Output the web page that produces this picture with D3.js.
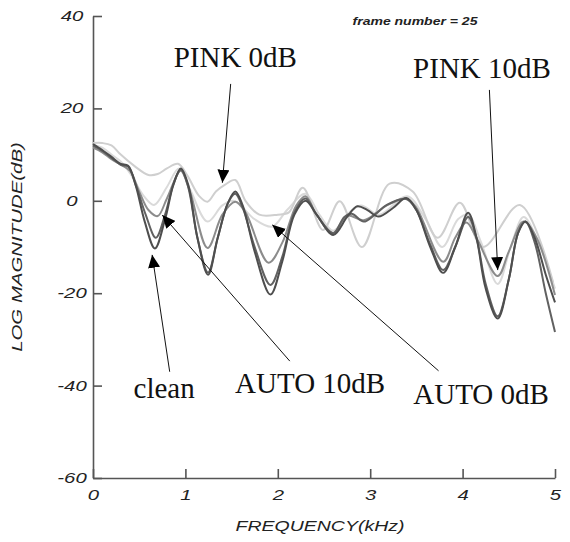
<!DOCTYPE html>
<html>
<head>
<meta charset="utf-8">
<script src="https://cdn.jsdelivr.net/npm/d3@7"></script>
<style>
  body { margin: 0; background: #fff; }
  svg { display: block; }
  .axis path, .axis line { stroke: #555; stroke-width: 1.6; }
  .axis text { font-family: "Liberation Sans", Arial, sans-serif; font-style: italic; font-size: 14px; fill: #222; }
  .note { font-family: "Liberation Serif", "Times New Roman", serif; font-size: 29px; fill: #111; }
</style>
</head>
<body>
<svg id="chart" width="570" height="542"></svg>
<script>
// spectra, [kHz, dB]
let clean = [[0,12.3],[0.1,11],[0.2,9.5],[0.3,8],[0.38,7.6],[0.46,3.5],[0.56,-4.5],[0.67,-10.3],[0.78,-4],[0.87,3.5],[0.95,7],[1.03,3.5],[1.13,-8],[1.245,-16],[1.35,-8],[1.46,-0.5],[1.54,2],[1.62,-1],[1.75,-11],[1.92,-20.3],[2.05,-13],[2.18,-3],[2.3,0],[2.42,-3],[2.6,-7.4],[2.75,-3.5],[2.86,-1.2],[2.97,-2],[3.09,-3.4],[3.25,-1.5],[3.39,0.6],[3.5,-2],[3.65,-10],[3.79,-15.6],[3.92,-10],[4.06,-2.6],[4.15,-8],[4.25,-19],[4.38,-25.5],[4.5,-17],[4.6,-7],[4.68,-4.5],[4.78,-8],[4.9,-16],[5,-22]]
let auto10 = [[0,12],[0.1,10.8],[0.2,9.3],[0.3,7.8],[0.38,7.4],[0.47,3],[0.57,-3],[0.68,-8],[0.78,-3],[0.87,3.5],[0.95,6.7],[1.03,3],[1.13,-8],[1.245,-15.5],[1.35,-8],[1.46,-0.5],[1.54,1.5],[1.62,-1.5],[1.75,-10],[1.92,-18.2],[2.05,-12],[2.18,-2.5],[2.3,0.5],[2.42,-3],[2.6,-7],[2.72,-3.5],[2.8,-2.8],[2.93,-4.5],[3.05,-3],[3.18,-0.9],[3.39,0.4],[3.5,-2],[3.65,-9.5],[3.79,-15],[3.92,-10],[4.06,-3.5],[4.15,-8],[4.25,-18],[4.38,-25],[4.5,-17],[4.6,-7],[4.68,-4.5],[4.78,-9],[4.9,-20],[5,-28.4]]
let auto0 = [[0,11.5],[0.1,10.5],[0.2,9],[0.3,7.8],[0.4,6.5],[0.5,2],[0.6,-2],[0.7,-3.3],[0.8,0.5],[0.95,6.5],[1.05,2],[1.24,-10.2],[1.4,-3],[1.54,-0.2],[1.65,-2.5],[1.9,-13.4],[2.05,-9],[2.2,-1],[2.3,1],[2.42,-3],[2.6,-7],[2.75,-3.2],[2.93,-4.2],[3.18,-1],[3.39,0.5],[3.5,-1.5],[3.79,-13.2],[3.92,-8],[4.04,-4.7],[4.15,-8],[4.38,-16.3],[4.5,-11],[4.66,-4.5],[4.8,-8],[5,-20.4]]
let pink0 = [[0,12.5],[0.1,12.5],[0.2,12],[0.3,10],[0.45,7.5],[0.6,5.6],[0.7,5.8],[0.8,7],[0.92,8],[1.02,5.5],[1.15,1],[1.24,-0.2],[1.33,2],[1.43,3.5],[1.54,4.5],[1.65,0],[1.8,-3],[2.0,-3],[2.12,-2.5],[2.27,2.8],[2.49,-6.3],[2.67,-0.1],[2.91,-10],[3.21,3.7],[3.46,2],[3.73,-8],[3.97,-0.4],[4.22,-10],[4.62,-0.9],[4.98,-17.7]]
let pink10 = [[0,12],[0.1,11.5],[0.2,10],[0.3,8.5],[0.4,6],[0.55,1],[0.66,-0.9],[0.8,3],[0.93,7],[1.05,2.5],[1.24,-4.5],[1.4,-1],[1.52,0],[1.62,-1.5],[1.75,-4],[1.94,-5.6],[2.1,-2],[2.3,1.5],[2.45,-3],[2.6,-6.5],[2.75,-3],[2.9,-1],[3.1,-3],[3.4,1],[3.6,-4],[3.78,-10],[3.95,-4],[4.06,-3],[4.2,-9],[4.38,-18],[4.52,-10],[4.66,-3.5],[4.8,-8],[5,-19]]

let series = [pink10, pink0, auto0, auto10, clean]
let seriesColors = ['#dadada', '#cfcfcf', '#8c8c8c', '#616161', '#4e4e4e']

let xTicks = [0, 1, 2, 3, 4, 5]
let yTicks = [-60, -40, -20, 0, 20, 40]

// annotation labels: text anchor [kHz, dB], arrow tail and head [kHz, dB]
let noteLabels = ['PINK 0dB', 'PINK 10dB', 'clean', 'AUTO 10dB', 'AUTO 0dB']
let notePos = [[1.54, 29], [4.21, 26.6], [0.77, -42.7], [2.35, -41.6], [4.2, -44]]
let arrowFrom = [[1.49, 25.3], [4.29, 24], [0.83, -37], [2.13, -34.7], [3.74, -36.8]]
let arrowTo = [[1.40, 3.9], [4.38, -15], [0.64, -11.7], [0.75, -3.1], [1.94, -5.2]]

let svg = d3.select('svg#chart')

let xScale = d3.scaleLinear().domain([0, 5]).range([93, 555])
let yScale = d3.scaleLinear().domain([-60, 40]).range([478, 16])

// stretch wide sans text along its own direction
function widen(sel, k) {
  sel.each(function() {
    let len = this.getComputedTextLength()
    d3.select(this).attr('textLength', len * k).attr('lengthAdjust', 'spacingAndGlyphs')
  })
}

// axes, ticks point inward
let xAxis = svg.append('g')
  .attr('class', 'axis')
  .attr('transform', `translate(0, ${yScale(-60)})`)
  .call(d3.axisBottom(xScale).tickValues(xTicks).tickFormat(d => String(d))
    .tickSizeInner(-9).tickSizeOuter(0).tickPadding(12))
xAxis.selectAll('text').call(widen, 1.45)

let yAxis = svg.append('g')
  .attr('class', 'axis')
  .attr('transform', `translate(${xScale(0)}, 0)`)
  .call(d3.axisLeft(yScale).tickValues(yTicks).tickFormat(d => String(d))
    .tickSizeInner(-9).tickSizeOuter(0))
yAxis.selectAll('text')
  .attr('x', -21)
  .attr('text-anchor', 'middle')
  .call(widen, 1.45)

// curves
let line = d3.line()
  .x(d => xScale(d[0]))
  .y(d => yScale(d[1]))
  .curve(d3.curveCatmullRom.alpha(0.5))

svg.append('g')
  .selectAll('path')
  .data(series)
  .enter()
  .append('path')
  .attr('d', line)
  .attr('fill', 'none')
  .attr('stroke', (d, i) => seriesColors[i])
  .attr('stroke-width', 2)
  .attr('stroke-linejoin', 'round')

// arrow heads
svg.append('defs')
  .append('marker')
  .attr('id', 'head')
  .attr('markerUnits', 'userSpaceOnUse')
  .attr('viewBox', '0 0 13 12')
  .attr('refX', 13)
  .attr('refY', 6)
  .attr('markerWidth', 13)
  .attr('markerHeight', 12)
  .attr('orient', 'auto')
  .append('path')
  .attr('d', 'M0,0 L13,6 L0,12 Z')
  .attr('fill', '#000')

svg.append('g')
  .selectAll('line')
  .data(noteLabels)
  .enter()
  .append('line')
  .attr('x1', (d, i) => xScale(arrowFrom[i][0]))
  .attr('y1', (d, i) => yScale(arrowFrom[i][1]))
  .attr('x2', (d, i) => xScale(arrowTo[i][0]))
  .attr('y2', (d, i) => yScale(arrowTo[i][1]))
  .attr('stroke', '#111')
  .attr('stroke-width', 1)
  .attr('marker-end', 'url(#head)')

svg.append('g')
  .selectAll('text')
  .data(noteLabels)
  .enter()
  .append('text')
  .attr('class', 'note')
  .attr('x', (d, i) => xScale(notePos[i][0]))
  .attr('y', (d, i) => yScale(notePos[i][1]))
  .attr('text-anchor', 'middle')
  .text(d => d)

// axis titles
svg.append('text')
  .attr('x', 320)
  .attr('y', 531)
  .attr('text-anchor', 'middle')
  .attr('font-family', '"Liberation Sans", Arial, sans-serif')
  .attr('font-style', 'italic')
  .attr('font-size', 15)
  .attr('fill', '#222')
  .text('FREQUENCY(kHz)')
  .call(widen, 1.3)

svg.append('text')
  .attr('transform', 'translate(22, 247) rotate(-90)')
  .attr('text-anchor', 'middle')
  .attr('font-family', '"Liberation Sans", Arial, sans-serif')
  .attr('font-style', 'italic')
  .attr('font-size', 15)
  .attr('fill', '#222')
  .text('LOG MAGNITUDE(dB)')
  .call(widen, 1.36)

svg.append('text')
  .attr('x', 415)
  .attr('y', 25)
  .attr('text-anchor', 'middle')
  .attr('font-family', '"Liberation Sans", Arial, sans-serif')
  .attr('font-style', 'italic')
  .attr('font-weight', 'bold')
  .attr('font-size', 10)
  .attr('fill', '#222')
  .text('frame number = 25')
  .call(widen, 1.4)
</script>
</body>
</html>
